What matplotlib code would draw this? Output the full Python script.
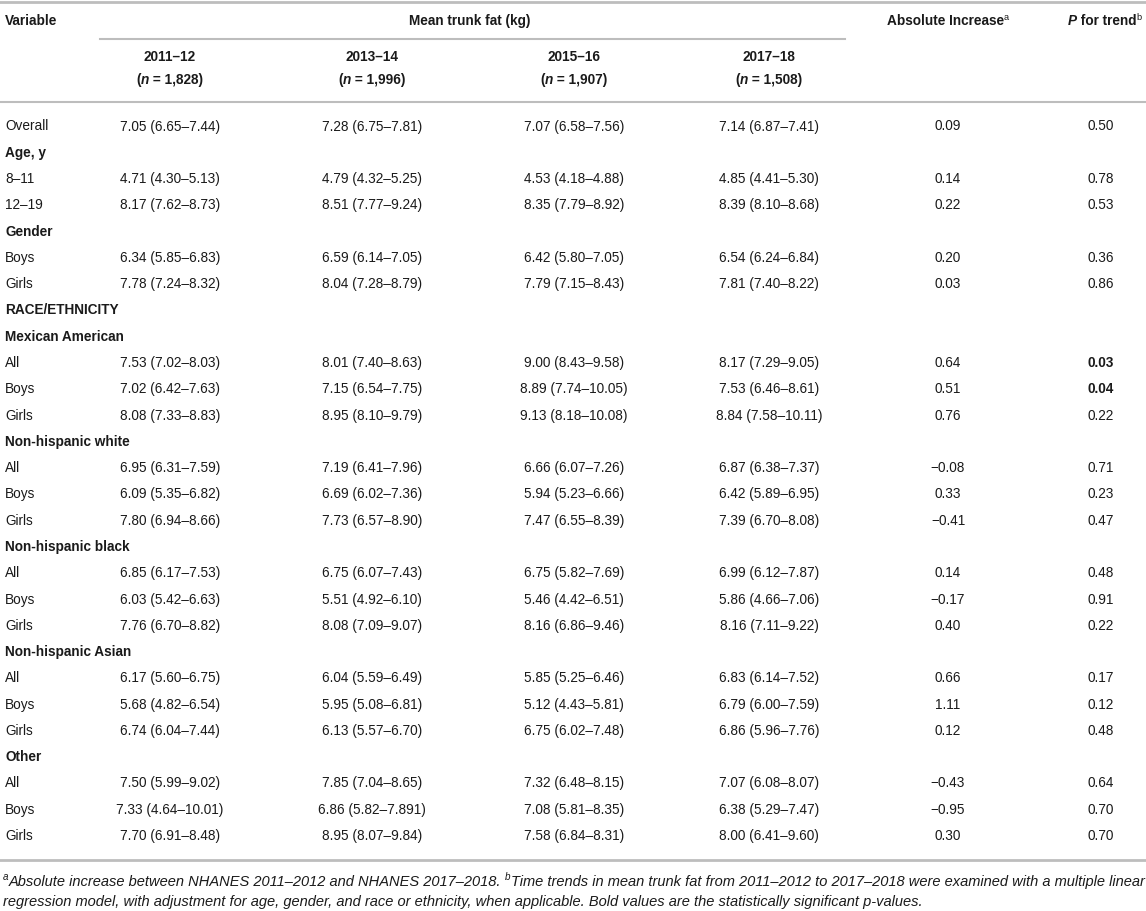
import matplotlib.pyplot as plt

plt.rcParams['font.family'] = ['Liberation Sans', 'DejaVu Sans']

periods = ["2011–12", "2013–14", "2015–16", "2017–18"]
n_sizes = ["1,828", "1,996", "1,907", "1,508"]

labels = ["Overall", "Age, y", "8–11", "12–19", "Gender", "Boys", "Girls",
          "RACE/ETHNICITY", "Mexican American", "All", "Boys", "Girls",
          "Non-hispanic white", "All", "Boys", "Girls",
          "Non-hispanic black", "All", "Boys", "Girls",
          "Non-hispanic Asian", "All", "Boys", "Girls",
          "Other", "All", "Boys", "Girls"]
section_rows = [1, 4, 7, 8, 12, 16, 20, 24]

c2011 = ["7.05 (6.65–7.44)", "", "4.71 (4.30–5.13)", "8.17 (7.62–8.73)", "",
         "6.34 (5.85–6.83)", "7.78 (7.24–8.32)", "", "",
         "7.53 (7.02–8.03)", "7.02 (6.42–7.63)", "8.08 (7.33–8.83)", "",
         "6.95 (6.31–7.59)", "6.09 (5.35–6.82)", "7.80 (6.94–8.66)", "",
         "6.85 (6.17–7.53)", "6.03 (5.42–6.63)", "7.76 (6.70–8.82)", "",
         "6.17 (5.60–6.75)", "5.68 (4.82–6.54)", "6.74 (6.04–7.44)", "",
         "7.50 (5.99–9.02)", "7.33 (4.64–10.01)", "7.70 (6.91–8.48)"]
c2013 = ["7.28 (6.75–7.81)", "", "4.79 (4.32–5.25)", "8.51 (7.77–9.24)", "",
         "6.59 (6.14–7.05)", "8.04 (7.28–8.79)", "", "",
         "8.01 (7.40–8.63)", "7.15 (6.54–7.75)", "8.95 (8.10–9.79)", "",
         "7.19 (6.41–7.96)", "6.69 (6.02–7.36)", "7.73 (6.57–8.90)", "",
         "6.75 (6.07–7.43)", "5.51 (4.92–6.10)", "8.08 (7.09–9.07)", "",
         "6.04 (5.59–6.49)", "5.95 (5.08–6.81)", "6.13 (5.57–6.70)", "",
         "7.85 (7.04–8.65)", "6.86 (5.82–7.891)", "8.95 (8.07–9.84)"]
c2015 = ["7.07 (6.58–7.56)", "", "4.53 (4.18–4.88)", "8.35 (7.79–8.92)", "",
         "6.42 (5.80–7.05)", "7.79 (7.15–8.43)", "", "",
         "9.00 (8.43–9.58)", "8.89 (7.74–10.05)", "9.13 (8.18–10.08)", "",
         "6.66 (6.07–7.26)", "5.94 (5.23–6.66)", "7.47 (6.55–8.39)", "",
         "6.75 (5.82–7.69)", "5.46 (4.42–6.51)", "8.16 (6.86–9.46)", "",
         "5.85 (5.25–6.46)", "5.12 (4.43–5.81)", "6.75 (6.02–7.48)", "",
         "7.32 (6.48–8.15)", "7.08 (5.81–8.35)", "7.58 (6.84–8.31)"]
c2017 = ["7.14 (6.87–7.41)", "", "4.85 (4.41–5.30)", "8.39 (8.10–8.68)", "",
         "6.54 (6.24–6.84)", "7.81 (7.40–8.22)", "", "",
         "8.17 (7.29–9.05)", "7.53 (6.46–8.61)", "8.84 (7.58–10.11)", "",
         "6.87 (6.38–7.37)", "6.42 (5.89–6.95)", "7.39 (6.70–8.08)", "",
         "6.99 (6.12–7.87)", "5.86 (4.66–7.06)", "8.16 (7.11–9.22)", "",
         "6.83 (6.14–7.52)", "6.79 (6.00–7.59)", "6.86 (5.96–7.76)", "",
         "7.07 (6.08–8.07)", "6.38 (5.29–7.47)", "8.00 (6.41–9.60)"]
abs_inc = ["0.09", "", "0.14", "0.22", "", "0.20", "0.03", "", "",
           "0.64", "0.51", "0.76", "", "−0.08", "0.33", "−0.41", "",
           "0.14", "−0.17", "0.40", "", "0.66", "1.11", "0.12", "",
           "−0.43", "−0.95", "0.30"]
p_trend = ["0.50", "", "0.78", "0.53", "", "0.36", "0.86", "", "",
           "0.03", "0.04", "0.22", "", "0.71", "0.23", "0.47", "",
           "0.48", "0.91", "0.22", "", "0.17", "0.12", "0.48", "",
           "0.64", "0.70", "0.70"]
bold_p = [9, 10]

foot1 = [("a", "sup"), ("Absolute increase between NHANES 2011–2012 and NHANES 2017–2018. ", ""),
         ("b", "sup"), ("Time trends in mean trunk fat from 2011–2012 to 2017–2018 were examined "
                        "with a multiple linear", "")]
foot2 = "regression model, with adjustment for age, gender, and race or ethnicity, when applicable. " \
        "Bold values are the statistically significant p-values."

W, H = 1146, 912
fig = plt.figure(figsize=(W / 100, H / 100), dpi=100)
ax = fig.add_axes([0, 0, 1, 1])
ax.set_xlim(0, W)
ax.set_ylim(H, 0)
ax.axis("off")
rend = fig.canvas.get_renderer()

FS = 9.8
TXT = "#1a1a1a"
LINE = "#bdbdbd"


def put_runs(x, y, parts, ha="left", size=FS, **kw):
    # parts: list of (text, style) where style may hold "sup", "b", "i"
    objs = []
    for s, st in parts:
        fs = size * 0.68 if "sup" in st else size
        t = ax.text(0, y, s, va="baseline", fontsize=fs, color=TXT,
                    fontweight="bold" if "b" in st else "normal",
                    fontstyle="italic" if "i" in st else "normal", **kw)
        objs.append((t, st))
    widths = [t.get_window_extent(rend).width for t, _ in objs]
    total = sum(widths)
    cx = x - total / 2 if ha == "center" else x
    for (t, st), w in zip(objs, widths):
        t.set_x(cx)
        if "sup" in st:
            t.set_y(y - size * 0.55)
        cx += w


# rules
ax.plot([0, W], [3, 3], color=LINE, lw=2)
ax.plot([100, 845], [40, 40], color=LINE, lw=1.5)
ax.plot([0, W], [103, 103], color=LINE, lw=1.5)
ax.plot([0, W], [861, 861], color=LINE, lw=2)

# header
col_x = [170, 372, 574, 769]
abs_x, p_x = 948, 1101
ax.text(5, 21, "Variable", fontsize=FS, fontweight="bold", va="center", color=TXT)
ax.text(470, 21, "Mean trunk fat (kg)", fontsize=FS, fontweight="bold", va="center",
        ha="center", color=TXT)
put_runs(abs_x, 25, [("Absolute Increase", "b"), ("a", "sup")], ha="center")
put_runs(1105, 25, [("P", "bi"), (" for trend", "b"), ("b", "sup")], ha="center")
for cx, per, n in zip(col_x, periods, n_sizes):
    ax.text(cx, 57, per, fontsize=FS, fontweight="bold", va="center", ha="center", color=TXT)
    put_runs(cx, 84, [("(", "b"), ("n", "bi"), (" = " + n + ")", "b")], ha="center")

# body
row_y0, row_dy = 126.5, 26.28
for i, lab in enumerate(labels):
    y = row_y0 + i * row_dy
    ax.text(5, y, lab, fontsize=FS, va="center", color=TXT,
            fontweight="bold" if i in section_rows else "normal")
    for cx, col in zip(col_x, [c2011, c2013, c2015, c2017]):
        ax.text(cx, y, col[i], fontsize=FS, va="center", ha="center", color=TXT)
    ax.text(abs_x, y, abs_inc[i], fontsize=FS, va="center", ha="center", color=TXT)
    ax.text(p_x, y, p_trend[i], fontsize=FS, va="center", ha="center", color=TXT,
            fontweight="bold" if i in bold_p else "normal")

# footnote
FN = 10.52
put_runs(3, 886, [(s, st + "i") for s, st in foot1], size=FN)
ax.text(3, 906, foot2, fontsize=FN, fontstyle="italic", va="baseline", color=TXT)

fig.savefig("out.png", dpi=100)
